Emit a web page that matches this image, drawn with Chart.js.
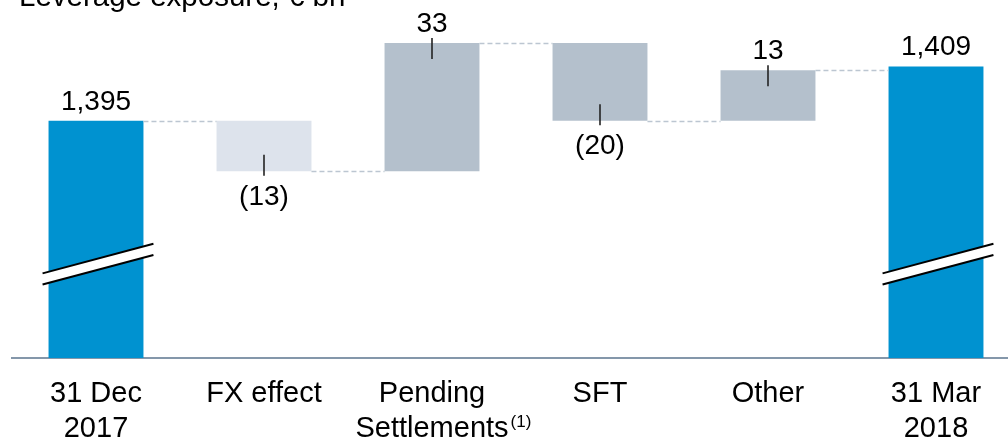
<!DOCTYPE html>
<html><head><meta charset="utf-8">
<script src="https://cdn.jsdelivr.net/npm/chart.js@4"></script>
<style>
html,body{margin:0;padding:0;overflow:hidden;background:#fff;width:1008px;height:441px}
#wrap{position:relative;width:1020px;height:441px}
</style>
</head><body><div id="wrap"><canvas id="c" width="1020" height="441" style="width:1020px;height:441px"></canvas></div>
<script>
// ---- data ----
const chartTitle = 'Leverage exposure, € bn';
const categories = [['31 Dec', '2017'], 'FX effect', ['Pending', 'Settlements'], 'SFT', 'Other', ['31 Mar', '2018']];
const footnotes = ['', '', '(1)', '', '', ''];
const startTotal = 1395;
const deltas = [-13, 33, -20, 13];
const endTotal = 1409;
const yAxisMin = 1334;
const yAxisMax = 1423.5;
const breakValue = 1358;

// ---- styles ----
const FONT = '"Liberation Sans", Arial, Helvetica, sans-serif';
const barColors = ['#0092D0', '#DDE3EC', '#B4C0CC', '#B4C0CC', '#B4C0CC', '#0092D0'];

// build floating bars from the values
const levels = [startTotal];
deltas.forEach(d => levels.push(levels[levels.length - 1] + d));
const barData = [[yAxisMin, startTotal]];
deltas.forEach((d, i) => barData.push([levels[i], levels[i + 1]]));
barData.push([yAxisMin, endTotal]);
const fmt = v => v.toLocaleString('en-US');
const valueLabels = [fmt(startTotal)].concat(deltas.map(d => d < 0 ? '(' + (-d) + ')' : String(d))).concat([fmt(endTotal)]);
const isTotal = [true].concat(deltas.map(() => false)).concat([true]);

const decor = {
  id: 'decor',
  afterDatasetsDraw(chart) {
    const ctx = chart.ctx;
    const ys = chart.scales.y, xs = chart.scales.x;
    const bars = chart.getDatasetMeta(0).data;
    ctx.save();
    // connectors
    ctx.strokeStyle = '#BCC6D1';
    ctx.lineWidth = 1.5;
    ctx.setLineDash([5, 3]);
    for (let i = 0; i < bars.length - 1; i++) {
      const y = Math.round(ys.getPixelForValue(barData[i][1])) + 0.5;
      const b0 = bars[i], b1 = bars[i + 1];
      ctx.beginPath();
      ctx.moveTo(b0.x + b0.width / 2, y);
      ctx.lineTo(b1.x - b1.width / 2, y);
      ctx.stroke();
    }
    ctx.setLineDash([]);
    // break marks on total bars
    const yc = ys.getPixelForValue(breakValue);
    const slope = 0.267, half = 5.6;
    bars.forEach((b, i) => {
      if (!isTotal[i]) return;
      const xl = b.x - b.width / 2 - 6, xr = b.x + b.width / 2 + 10;
      const yAt = (x, off) => yc + off - slope * (x - b.x);
      ctx.fillStyle = '#fff';
      ctx.beginPath();
      ctx.moveTo(xl, yAt(xl, -half)); ctx.lineTo(xr, yAt(xr, -half));
      ctx.lineTo(xr, yAt(xr, half)); ctx.lineTo(xl, yAt(xl, half));
      ctx.closePath(); ctx.fill();
      ctx.strokeStyle = '#000'; ctx.lineWidth = 2;
      [-half, half].forEach(off => {
        ctx.beginPath(); ctx.moveTo(xl, yAt(xl, off)); ctx.lineTo(xr, yAt(xr, off)); ctx.stroke();
      });
    });
    // value labels + leader ticks
    ctx.font = '28px ' + FONT;
    ctx.fillStyle = '#000';
    ctx.textAlign = 'center';
    ctx.textBaseline = 'alphabetic';
    bars.forEach((b, i) => {
      const top = Math.min(b.y, b.base), bottom = Math.max(b.y, b.base);
      const neg = !isTotal[i] && deltas[i - 1] < 0;
      if (neg) {
        ctx.fillText(valueLabels[i], b.x, bottom + 33.5);
        ctx.strokeStyle = '#222'; ctx.lineWidth = 1.6;
        ctx.beginPath(); ctx.moveTo(b.x, bottom - 16.5); ctx.lineTo(b.x, bottom + 4.5); ctx.stroke();
      } else {
        ctx.fillText(valueLabels[i], b.x, top - 11);
        if (!isTotal[i]) {
          ctx.strokeStyle = '#222'; ctx.lineWidth = 1.6;
          ctx.beginPath(); ctx.moveTo(b.x, top - 5); ctx.lineTo(b.x, top + 16); ctx.stroke();
        }
      }
    });
    // footnote superscripts on category labels
    footnotes.forEach((f, i) => {
      if (!f) return;
      const lab = categories[i];
      const last = Array.isArray(lab) ? lab[lab.length - 1] : lab;
      ctx.font = '29px ' + FONT;
      const w = ctx.measureText(last).width;
      ctx.font = '17px ' + FONT;
      ctx.textAlign = 'left';
      ctx.fillText(f, xs.getPixelForTick(i) + w / 2 + 2, 427);
    });
    // title
    ctx.font = '29.5px ' + FONT;
    ctx.textAlign = 'left';
    ctx.fillStyle = '#000';
    ctx.fillText(chartTitle, 19, 6);
    ctx.restore();
  }
};

new Chart(document.getElementById('c'), {
  type: 'bar',
  data: {
    labels: categories,
    datasets: [{
      data: barData,
      backgroundColor: barColors,
      borderWidth: 0,
      barPercentage: 0.565,
      categoryPercentage: 1
    }]
  },
  options: {
    responsive: false,
    animation: false,
    devicePixelRatio: 1,
    layout: { padding: { top: 10, left: 12, right: 0, bottom: 0 } },
    plugins: { legend: { display: false }, tooltip: { enabled: false }, title: { display: false } },
    scales: {
      y: { display: false, min: yAxisMin, max: yAxisMax },
      x: {
        afterFit(scale) { scale.height = 83; },
        grid: { display: true, color: 'rgba(0,0,0,0)', drawTicks: false, drawOnChartArea: false },
        border: { display: true, color: '#8497AA', width: 2 },
        ticks: {
          color: '#000', padding: 19, maxRotation: 0, autoSkip: false,
          font: { family: FONT, size: 29, lineHeight: 1.2 }
        }
      }
    }
  },
  plugins: [decor]
});
</script>
</body></html>
